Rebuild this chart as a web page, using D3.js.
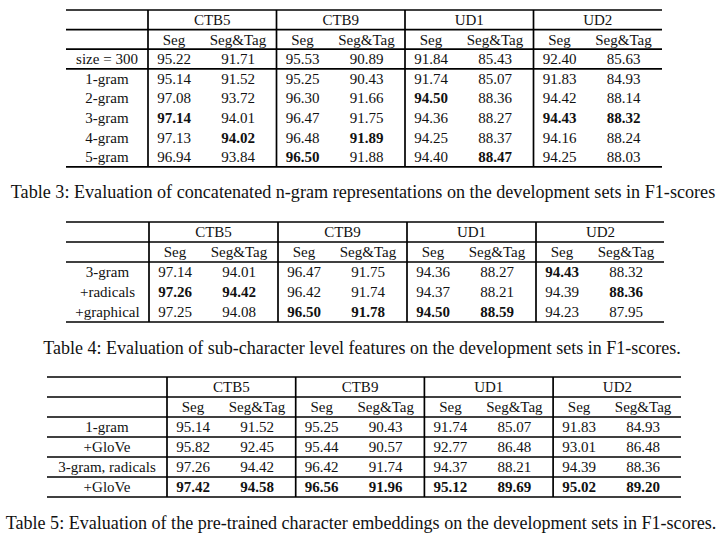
<!DOCTYPE html>
<html><head><meta charset="utf-8">
<script src="https://cdn.jsdelivr.net/npm/d3@7"></script>
<style>body{margin:0;background:#fff}svg{display:block}</style>
</head><body><svg id="c" width="724" height="540"></svg>
<script>
// ---- data ----
const groups = ["CTB5", "CTB9", "UD1", "UD2"];
const subCols = ["Seg", "Seg&Tag"];

const t3Labels = ["size = 300", "1-gram", "2-gram", "3-gram", "4-gram", "5-gram"];
const t3Values = [
  [95.22, 91.71, 95.53, 90.89, 91.84, 85.43, 92.40, 85.63],
  [95.14, 91.52, 95.25, 90.43, 91.74, 85.07, 91.83, 84.93],
  [97.08, 93.72, 96.30, 91.66, 94.50, 88.36, 94.42, 88.14],
  [97.14, 94.01, 96.47, 91.75, 94.36, 88.27, 94.43, 88.32],
  [97.13, 94.02, 96.48, 91.89, 94.25, 88.37, 94.16, 88.24],
  [96.94, 93.84, 96.50, 91.88, 94.40, 88.47, 94.25, 88.03]
];
const t3Bold = [[], [], [4], [0, 6, 7], [1, 3], [2, 5]];
const t3Caption = "Table 3: Evaluation of concatenated n-gram representations on the development sets in F1-scores";

const t4Labels = ["3-gram", "+radicals", "+graphical"];
const t4Values = [
  [97.14, 94.01, 96.47, 91.75, 94.36, 88.27, 94.43, 88.32],
  [97.26, 94.42, 96.42, 91.74, 94.37, 88.21, 94.39, 88.36],
  [97.25, 94.08, 96.50, 91.78, 94.50, 88.59, 94.23, 87.95]
];
const t4Bold = [[6], [0, 1, 7], [2, 3, 4, 5]];
const t4Caption = "Table 4: Evaluation of sub-character level features on the development sets in F1-scores.";

const t5Labels = ["1-gram", "+GloVe", "3-gram, radicals", "+GloVe"];
const t5Values = [
  [95.14, 91.52, 95.25, 90.43, 91.74, 85.07, 91.83, 84.93],
  [95.82, 92.45, 95.44, 90.57, 92.77, 86.48, 93.01, 86.48],
  [97.26, 94.42, 96.42, 91.74, 94.37, 88.21, 94.39, 88.36],
  [97.42, 94.58, 96.56, 91.96, 95.12, 89.69, 95.02, 89.20]
];
const t5Bold = [[], [], [], [0, 1, 2, 3, 4, 5, 6, 7]];
const t5Caption = "Table 5: Evaluation of the pre-trained character embeddings on the development sets in F1-scores.";

// ---- layout ----
const svg = d3.select("#c");
const FONT = "'Liberation Serif', 'Times New Roman', Times, serif";
const FS = 15;

function drawTable(cfg) {
  const g = svg.append("g");
  const nRows = 2 + cfg.labels.length;
  const y = d3.scaleLinear().domain([0, nRows]).range([cfg.top, cfg.top + nRows * cfg.rowH]);
  const gx = d3.scaleLinear().domain([0, 4]).range([cfg.divX, cfg.divX + 4 * cfg.groupW]);
  const colX = i => gx(Math.floor(i / 2)) + (i % 2 === 0 ? 26 : 90);
  const labelX = (cfg.left + cfg.divX) / 2;

  cfg.hlines.forEach(r => {
    g.append("line").attr("x1", cfg.left).attr("x2", cfg.right)
      .attr("y1", y(r)).attr("y2", y(r))
      .attr("stroke", "#000").attr("stroke-width", 1.7);
  });
  [0, 1, 2, 3].forEach(k => {
    const x = gx(k);
    g.append("line").attr("x1", x).attr("x2", x)
      .attr("y1", y(0)).attr("y2", y(nRows))
      .attr("stroke", "#000").attr("stroke-width", 1.7);
  });
  const txt = (x, yy, s, bold) => g.append("text").attr("x", x).attr("y", yy)
    .attr("dy", "0.35em").attr("text-anchor", "middle")
    .attr("font-family", FONT).attr("fill", "#111")
    .attr("font-size", FS).attr("font-weight", bold ? "bold" : "normal").text(s);
  groups.forEach((name, k) => txt((gx(k) + gx(k + 1)) / 2, y(0.5), name));
  for (let i = 0; i < 8; i++) txt(colX(i), y(1.5), subCols[i % 2]);
  cfg.labels.forEach((lab, r) => {
    txt(labelX, y(r + 2.5), lab);
    cfg.values[r].forEach((v, i) => txt(colX(i), y(r + 2.5), v.toFixed(2), cfg.bold[r].includes(i)));
  });
  const cap = g.append("text").attr("x", cfg.capX).attr("y", cfg.capY).attr("dy", "0.35em")
    .attr("text-anchor", "middle").attr("font-family", FONT).attr("fill", "#111")
    .attr("font-size", 16).text(cfg.caption);
  const w = cap.node().getComputedTextLength();
  cap.attr("font-size", 16 * cfg.capW / w);
}

drawTable({labels: t3Labels, values: t3Values, bold: t3Bold, caption: t3Caption,
  top: 10, rowH: 19.6, left: 66, divX: 148, groupW: 128.5, right: 662,
  hlines: [0, 1, 2, 3, 8], capX: 363, capY: 192, capW: 705});
drawTable({labels: t4Labels, values: t4Values, bold: t4Bold, caption: t4Caption,
  top: 222, rowH: 20, left: 66, divX: 149, groupW: 129, right: 664,
  hlines: [0, 1, 2, 5], capX: 362, capY: 348, capW: 638});
drawTable({labels: t5Labels, values: t5Values, bold: t5Bold, caption: t5Caption,
  top: 377, rowH: 20, left: 47, divX: 167, groupW: 128.7, right: 681,
  hlines: [0, 1, 2, 3, 4, 5, 6], capX: 361, capY: 523, capW: 711});
</script></body></html>
